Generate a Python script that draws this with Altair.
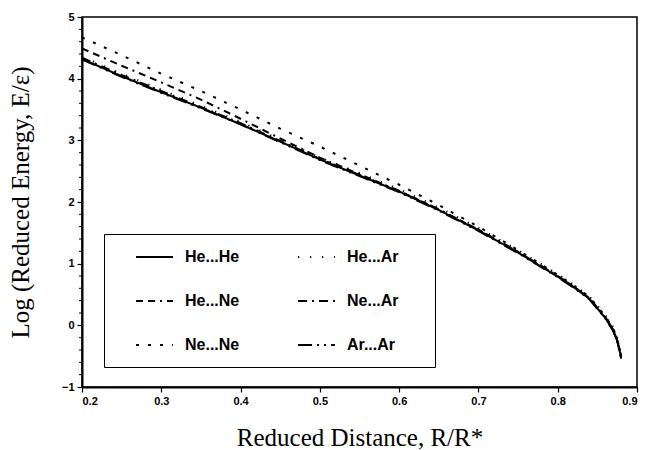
import altair as alt
import pandas as pd

# reduced distance R/R*
r_vals = [0.20, 0.25, 0.30, 0.35, 0.40, 0.45, 0.50, 0.55, 0.60, 0.65, 0.70,
          0.75, 0.80, 0.82, 0.84, 0.86, 0.87, 0.875, 0.88]

# log reduced energy for each pair
he_he = [4.32, 4.04, 3.78, 3.53, 3.26, 2.98, 2.69, 2.43, 2.17, 1.87, 1.54,
         1.18, 0.79, 0.62, 0.43, 0.12, -0.08, -0.25, -0.52]
he_ne = [4.49, 4.21, 3.94, 3.66, 3.35, 3.03, 2.72, 2.45, 2.18, 1.88, 1.55,
         1.19, 0.80, 0.63, 0.44, 0.13, -0.07, -0.24, -0.51]
ne_ne = [4.67, 4.38, 4.08, 3.80, 3.50, 3.19, 2.90, 2.59, 2.28, 1.95, 1.60,
         1.22, 0.82, 0.65, 0.46, 0.15, -0.05, -0.22, -0.48]
he_ar = [4.36, 4.08, 3.82, 3.56, 3.30, 3.01, 2.72, 2.47, 2.21, 1.91, 1.58,
         1.22, 0.83, 0.66, 0.47, 0.17, -0.03, -0.20, -0.46]
ne_ar = [4.34, 4.06, 3.80, 3.54, 3.28, 2.99, 2.70, 2.44, 2.18, 1.88, 1.55,
         1.19, 0.80, 0.63, 0.44, 0.13, -0.07, -0.24, -0.50]
ar_ar = [4.31, 4.03, 3.77, 3.52, 3.26, 2.97, 2.68, 2.42, 2.16, 1.86, 1.53,
         1.17, 0.78, 0.61, 0.42, 0.11, -0.09, -0.26, -0.54]

# legend fills column by column
pairs = ["He...He", "He...Ne", "Ne...Ne", "He...Ar", "Ne...Ar", "Ar...Ar"]
series = [he_he, he_ne, ne_ne, he_ar, ne_ar, ar_ar]
dashes = [[1, 0], [7, 5, 7, 5, 2, 5], [3, 9], [1.2, 10.8], [9, 5, 2, 5],
          [14, 5, 2, 5, 2, 5]]

x_ticks = [0.2, 0.3, 0.4, 0.5, 0.6, 0.7, 0.8, 0.9]
y_ticks = [-1, 0, 1, 2, 3, 4, 5]
y_minor = [-0.8, -0.6, -0.4, -0.2, 0.2, 0.4, 0.6, 0.8, 1.2, 1.4, 1.6, 1.8,
           2.2, 2.4, 2.6, 2.8, 3.2, 3.4, 3.6, 3.8, 4.2, 4.4, 4.6, 4.8]

rows = []
for name, ys in zip(pairs, series):
    for x, y in zip(r_vals, ys):
        rows.append({"pair": name, "r": x, "logE": y})
df = pd.DataFrame(rows)
minor_df = pd.DataFrame({"m": y_minor})

x_scale = alt.Scale(domain=[0.2, 0.9], nice=False, zero=False)
y_scale = alt.Scale(domain=[-1, 5], nice=False, zero=False)

lines = alt.Chart(df).mark_line(color="black", strokeWidth=2).encode(
    x=alt.X("r:Q", scale=x_scale,
            axis=alt.Axis(values=x_ticks, format=".1f",
                          title="Reduced Distance, R/R*",
                          titleY=58, titleBaseline="alphabetic")),
    y=alt.Y("logE:Q", scale=y_scale,
            axis=alt.Axis(values=y_ticks, format="d",
                          title="Log (Reduced Energy, E/ε)",
                          titleX=-49, titleY=185, titleAngle=270,
                          titleBaseline="bottom", titleAlign="center")),
    strokeDash=alt.StrokeDash(
        "pair:N",
        scale=alt.Scale(domain=pairs, range=dashes),
        sort=pairs,
        legend=alt.Legend(
            title=".", titleOrient="right", titleColor="transparent",
            titleFontSize=8, titlePadding=19,
            orient="none", legendX=22, legendY=217, columns=2,
            symbolType="M1.13,0H5.75", symbolSize=256, symbolStrokeWidth=2,
            symbolStrokeColor="black", symbolFillColor="transparent",
            labelFont="Liberation Sans", labelFontSize=16,
            labelFontWeight="bold", labelColor="black", labelOffset=49,
            columnPadding=40, rowPadding=27, padding=14,
            strokeColor="black", fillColor="white")),
)

minor = alt.Chart(minor_df).mark_rule(color="black", strokeWidth=1).encode(
    y=alt.Y("m:Q", scale=y_scale),
    x=alt.value(-3), x2=alt.value(0),
)

chart = alt.layer(lines, minor).properties(
    width=555, height=370,
    autosize=alt.AutoSizeParams(type="none"),
    padding={"left": 82, "top": 17, "right": 9, "bottom": 63},
).configure_view(
    stroke="black", strokeWidth=1.5
).configure_axis(
    grid=False, domainColor="black", domainWidth=2,
    tickColor="black", tickSize=5, tickWidth=1.2,
    labelFont="Liberation Sans", labelFontSize=11, labelFontWeight="bold",
    labelColor="black", labelPadding=3,
    titleFont="Liberation Serif", titleFontSize=25, titleFontWeight="normal",
    titleColor="black",
).configure_legend(
    symbolStrokeColor="black"
)

chart.save("out.html", embed_options={"renderer": "svg", "actions": False})
